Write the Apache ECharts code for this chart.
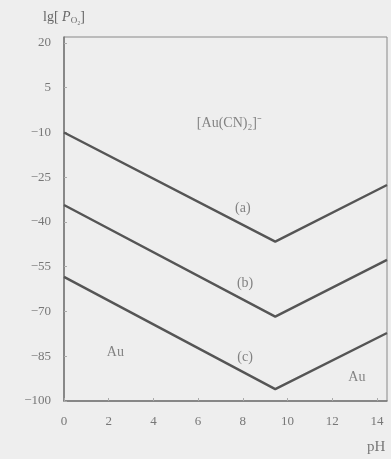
<!DOCTYPE html>
<html>
<head>
<meta charset="utf-8">
<script src="https://cdn.jsdelivr.net/npm/echarts@6/dist/echarts.min.js"></script>
<style>
html,body{margin:0;padding:0;background:#eeeeee;}
#c{width:391px;height:459px;}
</style>
</head>
<body>
<div id="c"></div>
<script>
// Data
var lineA = [[0, -10], [9.45, -46.6], [14.45, -27.6]];
var lineB = [[0, -34.3], [9.45, -71.7], [14.45, -52.7]];
var lineC = [[0, -58.4], [9.45, -96.0], [14.45, -77.2]];
var xTicks = [0, 2, 4, 6, 8, 10, 12, 14];
var yTicks = [-100, -85, -70, -55, -40, -25, -10, 5, 20];
// annotation texts with their data-space anchor
var annTexts = ['[Au(CN)₂]⁻', '(a)', '(b)', '(c)', 'Au', 'Au'];
var annX = [7.4, 8.0, 8.1, 8.1, 2.3, 13.1];
var annY = [-6.8, -35.3, -60.4, -85.3, -83.6, -92];

var chart = echarts.init(document.getElementById('c'));
var font = 'Liberation Serif';
var ink = '#555';
function mkLine(d) {
  return {type: 'line', data: d, symbol: 'none', lineStyle: {color: ink, width: 2.4}, silent: true, z: 3};
}
var annData = annTexts.map(function (t, i) { return {value: [annX[i], annY[i]], name: t}; });
chart.setOption({
  backgroundColor: '#eeeeee',
  animation: false,
  grid: {left: 64, right: 4, top: 37, bottom: 58, show: true, borderColor: '#888', borderWidth: 1, backgroundColor: 'transparent'},
  xAxis: {
    type: 'value', min: 0, max: 14.45, interval: 2,
    axisLine: {onZero: false, lineStyle: {color: '#777', width: 1.5}},
    axisTick: {inside: true, length: 3, lineStyle: {color: '#aaa'}},
    splitLine: {show: false},
    axisLabel: {showMaxLabel: false, margin: 14, color: '#777', fontFamily: font, fontSize: 13,
      formatter: function (v) { return xTicks.indexOf(v) >= 0 ? String(v) : ''; }},
    name: 'pH', nameLocation: 'end', nameGap: -20,
    nameTextStyle: {color: '#777', fontFamily: font, fontSize: 15, align: 'left', verticalAlign: 'top', padding: [39, 0, 0, 0]}
  },
  yAxis: {
    type: 'value', min: -100, max: 22, interval: 15,
    axisLine: {show: true, onZero: false, lineStyle: {color: '#777', width: 1.5}},
    axisTick: {show: true, inside: true, length: 3, lineStyle: {color: '#aaa'}},
    splitLine: {show: false},
    axisLabel: {showMaxLabel: false, margin: 13, color: '#777', fontFamily: font, fontSize: 13,
      formatter: function (v) { return yTicks.indexOf(v) >= 0 ? String(v).replace('-', '−') : ''; }},
    name: '{n|lg[ }{i|P}{s|O₂}{n|]}', nameLocation: 'end', nameGap: 12,
    nameTextStyle: {
      color: '#666', fontFamily: font, fontSize: 14,
      rich: {
        n: {color: '#666', fontFamily: font, fontSize: 14},
        i: {color: '#666', fontFamily: font, fontSize: 14, fontStyle: 'italic'},
        s: {color: '#666', fontFamily: font, fontSize: 9, padding: [6, 0, 0, 0]}
      }
    }
  },
  series: [
    mkLine(lineA), mkLine(lineB), mkLine(lineC),
    {
      type: 'scatter', data: annData, symbolSize: 0, silent: true, z: 4,
      label: {show: true, position: 'inside', formatter: function (p) { return p.name; },
        color: '#666', fontFamily: font, fontSize: 14}
    }
  ]
});
</script>
</body>
</html>
